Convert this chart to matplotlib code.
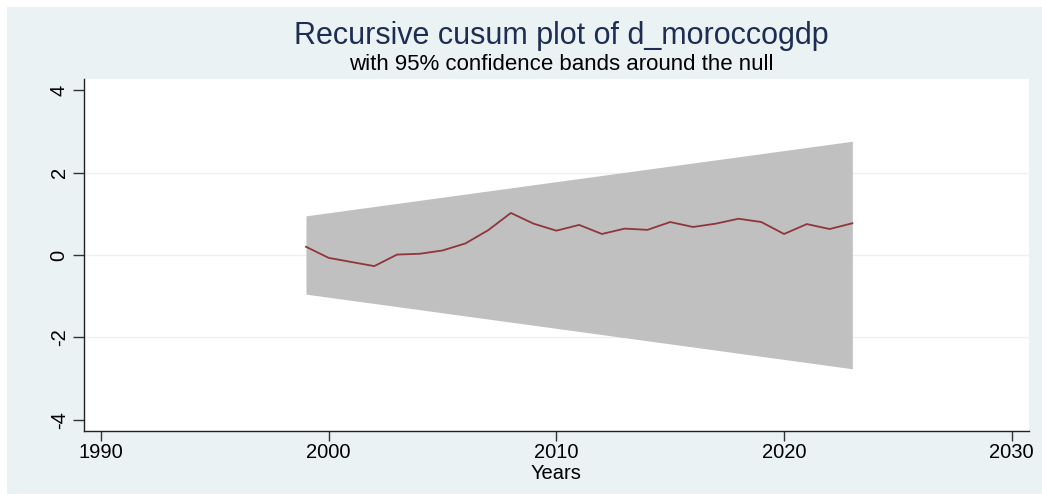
import matplotlib
matplotlib.use("Agg")
import matplotlib.pyplot as plt
from matplotlib.patches import Rectangle

plt.rcParams['font.family'] = ['Liberation Sans', 'DejaVu Sans']

# Recursive CUSUM statistic by year
years = [1999, 2000, 2001, 2002, 2003, 2004, 2005, 2006, 2007, 2008, 2009,
         2010, 2011, 2012, 2013, 2014, 2015, 2016, 2017, 2018, 2019, 2020,
         2021, 2022, 2023]
cusum = [0.20, -0.07, -0.17, -0.27, 0.01, 0.03, 0.11, 0.28, 0.60, 1.02, 0.76,
         0.59, 0.73, 0.51, 0.64, 0.61, 0.80, 0.68, 0.76, 0.88, 0.80, 0.51,
         0.75, 0.63, 0.77]

# 95% confidence band end points
band_years = [1999, 2023]
band_upper = [0.95, 2.76]
band_lower = [-0.95, -2.76]

x_ticks = [1990, 2000, 2010, 2020, 2030]
y_ticks = [-4, -2, 0, 2, 4]

W, H = 1042, 495
fig = plt.figure(figsize=(W / 100, H / 100), dpi=100, facecolor='white')

# outer graph region
fig.patches.append(Rectangle((7 / W, 1 / H), (W - 7) / W, (H - 8) / H,
                             transform=fig.transFigure, facecolor='#EAF2F3',
                             edgecolor='none', zorder=-10))

ax = fig.add_axes([84 / W, (H - 431) / H, (1029 - 84) / W, (431 - 79) / H])
ax.set_zorder(5)
ax.set_facecolor('white')

ax.fill_between(band_years, band_lower, band_upper, color='#C0C0C0',
                linewidth=0, zorder=2)
ax.plot(years, cusum, color='#90353B', linewidth=1.3, zorder=3)

for g in [-2, 0, 2]:
    ax.axhline(g, color='#EAF2F3', linewidth=1.0, zorder=1)

ax.set_xlim(1989.25, 2030.76)
ax.set_ylim(-4.27, 4.27)
ax.set_xticks(x_ticks)
ax.set_yticks(y_ticks)
ax.set_xticklabels([str(t) for t in x_ticks], fontsize=14.5)
ax.set_yticklabels([str(t) for t in y_ticks], fontsize=14.5, rotation=90,
                   va='center')
ax.tick_params(axis='x', direction='out', length=7, width=1,
               color='#333333', pad=2)
ax.tick_params(axis='y', direction='out', length=8, width=1,
               color='#333333', pad=3)

for side in ['top', 'right']:
    ax.spines[side].set_visible(False)
for side in ['left', 'bottom']:
    ax.spines[side].set_color('#222222')
    ax.spines[side].set_linewidth(1.0)

ax.set_xlabel('Years', fontsize=14.5, labelpad=1)

cx = 0.5 * (84 + 1029) / W + 5 / W
fig.text(cx, 1 - 36 / H, 'Recursive cusum plot of d_moroccogdp',
         ha='center', va='center', fontsize=22, color='#1E2D53')
fig.text(cx, 1 - 65 / H,
         'with 95% confidence bands around the null',
         ha='center', va='center', fontsize=16, color='black')

fig.savefig('out.png', dpi=100, facecolor='white')
